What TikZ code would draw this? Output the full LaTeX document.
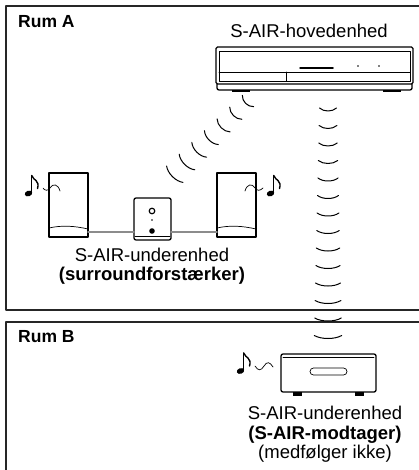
\documentclass[tikz,border=0pt]{standalone}
\usepackage{fontspec}
\setmainfont{Liberation Sans}
% eighth note: #1,#2 = centre of the note head
\newcommand\musicnote[2]{%
  \fill[rotate around={20:(#1,#2)}] (#1,#2) ellipse (3.8 and 2.8);
  \draw[line width=1.2pt] (#1+3.2,#2-1) -- (#1+3.2,#2-18);
  \draw[line width=1.4pt] (#1+3.2,#2-18) .. controls (#1+5,#2-13) and (#1+11.5,#2-13) .. (#1+9,#2-5);
}
\begin{document}
\begin{tikzpicture}[x=1pt,y=-1pt,line join=round,line cap=round]
\tikzset{
  room/.style={line width=2pt,draw=black!85},
  dev/.style={line width=1.3pt},
  fine/.style={line width=0.7pt},
  wave/.style={line width=1pt},
  cable/.style={line width=1.6pt,draw=black!45},
  lbl/.style={font=\fontsize{18.5}{20}\selectfont,inner sep=0pt,anchor=base},
  lblb/.style={inner sep=0pt,anchor=base,font=\fontsize{18.5}{20}\selectfont\bfseries},
  roomlbl/.style={inner sep=0pt,anchor=base west,font=\fontsize{17.5}{20}\selectfont\bfseries},
}
\useasboundingbox (0,0) rectangle (419,470);

% rooms
\draw[room] (419,6) -- (6,6) -- (6,310) -- (419,310);
\draw[room] (419,322) -- (6,322) -- (6,470);
\node[roomlbl] (rumA) at (18,28) {Rum A};
\node[roomlbl] (rumB) at (18,342) {Rum B};

% main unit
\node[lbl] (mainlbl) at (309,38) {S-AIR-hovedenhed};
\draw[dev,rounded corners=1.5] (216,47) rectangle (413,84);
\draw[fine] (219,51) rectangle (410,81);
\draw[fine] (219,72) -- (410,72);
\draw[fine] (286,72) -- (286,81);
\draw[line width=1.5pt] (300,68) -- (333,68);
\fill (358,66) circle (0.9);
\fill (379,66) circle (0.9);
\draw[dev,rounded corners=2] (217,84) -- (217,90) -- (412,90) -- (412,84);
\fill (232,90) rectangle (250,92);
\fill (383,90) rectangle (401,92);

% radio waves towards room B
\foreach \i in {0,...,13}{
  \pgfmathsetmacro\yy{108+17.5*\i}
  \pgfmathsetmacro\ww{8.5+0.4*\i}
  \draw[wave] (328-\ww,\yy) .. controls (328-\ww/2,\yy+4) and (328+\ww/2,\yy+4) .. (328+\ww,\yy);
}
% radio waves towards the surround amplifier
\foreach \i in {0,...,6}{
  \pgfmathsetmacro\cx{248-12.2*\i}
  \pgfmathsetmacro\cy{101+12.2*\i}
  \pgfmathsetmacro\ww{8+0.6*\i}
  \draw[wave,shift={(\cx,\cy)},rotate=-45] (-\ww,0) .. controls (-\ww/2,4.5) and (\ww/2,4.5) .. (\ww,0);
}

% speakers
\draw[dev] (49,173) rectangle (88,237);
\draw[fine] (49,228) .. controls (62,225) and (75,226) .. (88,229);
\draw[dev] (217,173) rectangle (256,237);
\draw[fine] (217,228) .. controls (230,225) and (243,226) .. (256,229);
\draw[fine] (43,188) .. controls (45,191) and (48,191) .. (50,188) .. controls (53,183) and (58,184) .. (60,191);
\draw[fine] (245,191) .. controls (247,184) and (252,183) .. (255,188) .. controls (257,191) and (260,191) .. (263,188);
\musicnote{28.5}{193.5}
\musicnote{270.5}{193.5}

% surround amplifier
\draw[dev,rounded corners=2] (134,198) rectangle (171,240);
\draw[fine] (135,236) -- (170,236);
\draw[line width=1.2pt] (152,211) circle (2.8);
\fill (152,220) circle (0.9);
\fill (152,231) circle (2.8);
\coordinate (spL) at (88,232);
\coordinate (ampL) at (134,232);
\coordinate (ampR) at (171,232);
\coordinate (spR) at (217,232);
\draw[cable] (spL) -- (ampL);
\draw[cable] (ampR) -- (spR);
\node[lbl] (sublbl1) at (152,261) {S-AIR-underenhed};
\node[lblb] (sublbl2) at (152,280) {(surroundforstærker)};

% receiver
\draw[dev,rounded corners=2] (281,354) rectangle (376,392);
\draw[fine] (283,357) -- (374,357);
\draw[fine,rounded corners=3.5] (310,368) rectangle (347,375);
\fill (293,392) rectangle (302,395.5);
\fill (355,392) rectangle (364,395.5);
\draw[fine] (255,366) .. controls (258,371) and (261,371) .. (264,366) .. controls (267,361) and (270,362) .. (273,367);
\musicnote{240.5}{371}
\node[lbl] (rcvlbl1) at (325,419) {S-AIR-underenhed};
\node[lblb] (rcvlbl2) at (325,439) {(S-AIR-modtager)};
\node[lbl] (rcvlbl3) at (325,458) {(medfølger ikke)};
\end{tikzpicture}
\end{document}
